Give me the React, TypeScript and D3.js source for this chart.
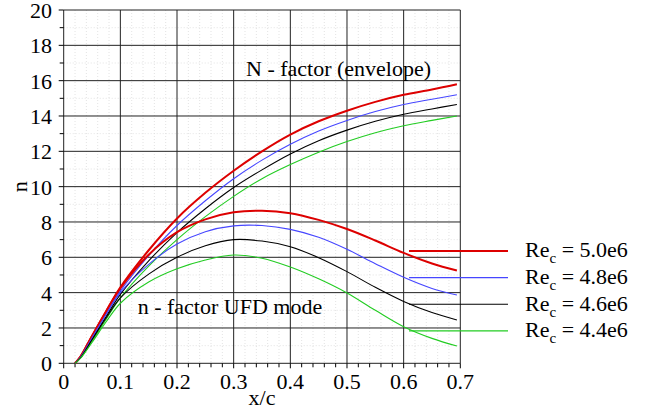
import React from "react";
import * as d3 from "d3";

const W = 653;
const H = 412;

// x/c positions sampled along the curves
const xs = [0.02, 0.03, 0.05, 0.075, 0.1, 0.15, 0.2, 0.25, 0.3, 0.35, 0.4, 0.45, 0.5, 0.55, 0.6, 0.65, 0.694];

// N-factor envelope curves
const envRe50 = [0, 0.4, 1.55, 2.95, 4.3, 6.4, 8.2, 9.65, 10.9, 12.0, 12.95, 13.7, 14.3, 14.8, 15.2, 15.5, 15.8];
const envRe48 = [0, 0.37, 1.45, 2.8, 4.1, 6.1, 7.8, 9.2, 10.45, 11.5, 12.4, 13.15, 13.75, 14.25, 14.65, 14.95, 15.2];
const envRe46 = [0, 0.33, 1.35, 2.65, 3.9, 5.8, 7.4, 8.75, 9.95, 10.95, 11.85, 12.6, 13.2, 13.7, 14.1, 14.4, 14.65];
const envRe44 = [0, 0.3, 1.25, 2.5, 3.7, 5.5, 7.0, 8.3, 9.45, 10.45, 11.25, 11.95, 12.55, 13.05, 13.45, 13.75, 14.0];

// n-factor UFD mode curves
const ufdRe50 = [0, 0.4, 1.55, 2.95, 4.25, 6.15, 7.42, 8.15, 8.55, 8.64, 8.5, 8.12, 7.6, 6.95, 6.25, 5.65, 5.25];
const ufdRe48 = [0, 0.37, 1.45, 2.78, 4.0, 5.6, 6.75, 7.45, 7.78, 7.8, 7.58, 7.13, 6.45, 5.64, 4.87, 4.24, 3.87];
const ufdRe46 = [0, 0.33, 1.33, 2.58, 3.7, 5.05, 6.0, 6.65, 7.0, 6.92, 6.6, 5.98, 5.19, 4.3, 3.5, 2.87, 2.45];
const ufdRe44 = [0, 0.3, 1.18, 2.35, 3.4, 4.6, 5.35, 5.85, 6.13, 5.95, 5.45, 4.78, 3.98, 3.0, 2.07, 1.41, 0.98];

const legendLabels = ["5.0e6", "4.8e6", "4.6e6", "4.4e6"];
const seriesColors = ["#dd0000", "#4646ff", "#000000", "#22cc22"];
const seriesWidths = [2, 1.1, 1.1, 1.1];
const envelopes = [envRe50, envRe48, envRe46, envRe44];
const ufds = [ufdRe50, ufdRe48, ufdRe46, ufdRe44];

const xMajor = [0, 0.1, 0.2, 0.3, 0.4, 0.5, 0.6, 0.7];
const yMajor = [0, 2, 4, 6, 8, 10, 12, 14, 16, 18, 20];

const FONT = "Liberation Serif, DejaVu Serif, serif";

export default function App() {
  const x = d3.scaleLinear().domain([0, 0.7]).range([63.7, 460.3]);
  const y = d3.scaleLinear().domain([0, 20]).range([363.3, 10]);

  const xMinor = d3.range(0, 0.7001, 0.02).filter((v) => Math.abs(v * 10 - Math.round(v * 10)) > 1e-6);
  const yMinor = d3.range(1, 20, 2);

  const line = d3
    .line<[number, number]>()
    .x((d) => x(d[0]))
    .y((d) => y(d[1]))
    .curve(d3.curveCatmullRom.alpha(0.5));

  const mk = (vals: number[]) => line(xs.map((v, i) => [v, vals[i]] as [number, number])) || "";

  const [x0, x1] = x.range();
  const [y0, y1] = y.range();

  const legendBase = [257.3, 284, 310.7, 337.3];
  const txt = { fontFamily: FONT, fontSize: 22, fill: "#000" } as React.CSSProperties;

  return (
    <svg width={W} height={H} style={{ position: "absolute", left: 0, top: 0, background: "#fff" }}>
      {/* minor dotted grid */}
      {xMinor.map((v) => (
        <line key={"xm" + v} x1={x(v)} x2={x(v)} y1={y1} y2={y0} stroke="#dcdcdc" strokeWidth={0.8} strokeDasharray="1,2" />
      ))}
      {yMinor.map((v) => (
        <line key={"ym" + v} x1={x0} x2={x1} y1={y(v)} y2={y(v)} stroke="#dcdcdc" strokeWidth={0.8} strokeDasharray="1,2" />
      ))}
      {/* major grid */}
      {xMajor.map((v) => (
        <line key={"xg" + v} x1={x(v)} x2={x(v)} y1={y1} y2={y0} stroke="#222" strokeWidth={1} />
      ))}
      {yMajor.map((v) => (
        <line key={"yg" + v} x1={x0} x2={x1} y1={y(v)} y2={y(v)} stroke="#222" strokeWidth={1} />
      ))}
      {/* ticks */}
      {yMajor.map((v) => (
        <line key={"yt" + v} x1={x0 - 5} x2={x0} y1={y(v)} y2={y(v)} stroke="#000" strokeWidth={1} />
      ))}
      {yMinor.map((v) => (
        <line key={"ytm" + v} x1={x0 - 4} x2={x0} y1={y(v)} y2={y(v)} stroke="#000" strokeWidth={1} />
      ))}
      {xMajor.map((v) => (
        <line key={"xt" + v} x1={x(v)} x2={x(v)} y1={y0} y2={y0 + 5} stroke="#000" strokeWidth={1} />
      ))}
      {xMinor.map((v) => (
        <line key={"xtm" + v} x1={x(v)} x2={x(v)} y1={y0} y2={y0 + 4} stroke="#000" strokeWidth={1} />
      ))}
      {/* tick labels */}
      {yMajor.map((v) => (
        <text key={"yl" + v} x={52} y={y(v) + 8} textAnchor="end" style={txt}>
          {v}
        </text>
      ))}
      {xMajor.map((v) => (
        <text key={"xl" + v} x={x(v)} y={389} textAnchor="middle" style={txt}>
          {v === 0 ? "0" : String(v)}
        </text>
      ))}
      <text x={(x0 + x1) / 2} y={405} textAnchor="middle" style={txt}>
        x/c
      </text>
      <text transform={`translate(27,${(y0 + y1) / 2}) rotate(-90)`} textAnchor="middle" style={txt}>
        n
      </text>

      {/* curves */}
      {envelopes.map((vals, i) => (
        <path key={"env" + i} d={mk(vals)} fill="none" stroke={seriesColors[i]} strokeWidth={seriesWidths[i]} />
      ))}
      {ufds.map((vals, i) => (
        <path key={"ufd" + i} d={mk(vals)} fill="none" stroke={seriesColors[i]} strokeWidth={seriesWidths[i]} />
      ))}

      {/* annotations */}
      <text x={246} y={75.7} style={txt}>
        N - factor (envelope)
      </text>
      <text x={137.7} y={314} style={txt}>
        n - factor UFD mode
      </text>

      {/* legend */}
      {legendLabels.map((lab, i) => (
        <g key={"lg" + i}>
          <line x1={409} x2={508} y1={legendBase[i] - 6.4} y2={legendBase[i] - 6.4} stroke={seriesColors[i]} strokeWidth={seriesWidths[i]} />
          <text x={525} y={legendBase[i]} style={txt}>
            Re
            <tspan style={{ fontSize: 15 }} dy={6}>c</tspan>
            <tspan dy={-6}>{" = " + lab}</tspan>
          </text>
        </g>
      ))}
    </svg>
  );
}
